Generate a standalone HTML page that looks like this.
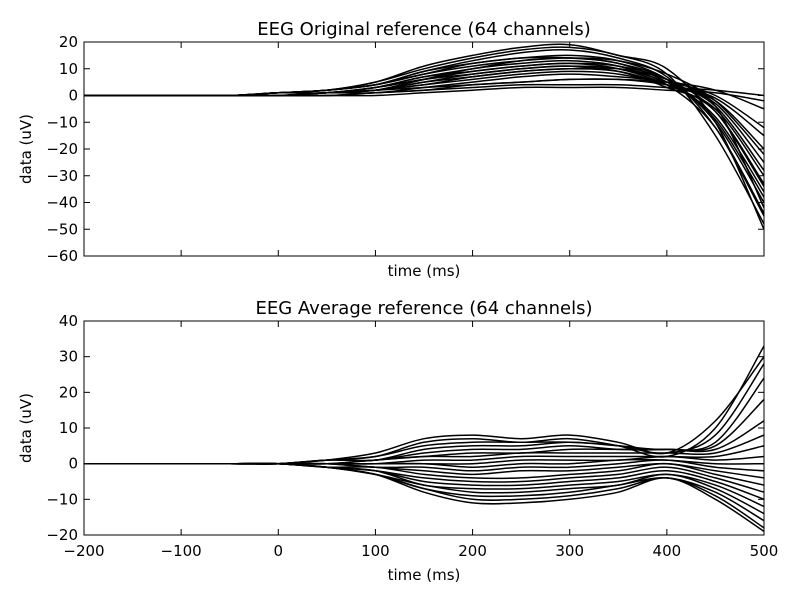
<!DOCTYPE html>
<html><head><meta charset="utf-8"><style>
html,body{margin:0;padding:0;background:#fff;}
svg{display:block;font-family:"DejaVu Sans","Liberation Sans",sans-serif;}
</style></head><body>
<svg id="chart" width="800" height="600" viewBox="0 0 800 600" xmlns="http://www.w3.org/2000/svg"></svg>
<script>
const times = [-200,-150,-100,-50,0,50,100,150,200,250,300,350,400,450,500];
const xTicks = [-200,-100,0,100,200,300,400,500];
const topYTicks = [20,10,0,-10,-20,-30,-40,-50,-60];
const botYTicks = [40,30,20,10,0,-10,-20];
const topSeries = [
[0,0,0,0,1,2,5,10,14,17,18,15,8,-15,-48],
[0,0,0,0,1,2,4,9,13,16,17,14,7,-12,-45],
[0,0,0,0,1,2,4,8,12,14,15,13,6,-10,-40],
[0,0,0,0,1,1,3,7,10,13,14,12,5,-8,-36],
[0,0,0,0,0,1,3,6,9,11,12,10,4,-6,-33],
[0,0,0,0,0,1,2,5,8,10,11,9,3,-5,-30],
[0,0,0,0,0,1,2,5,7,9,10,9,4,-3,-25],
[0,0,0,0,0,1,2,4,6,8,9,8,4,-2,-20],
[0,0,0,0,0,1,1,3,5,7,8,7,5,0,-12],
[0,0,0,0,0,0,1,2,4,5,6,6,5,2,-5],
[0,0,0,0,0,0,1,2,3,4,4,4,3,2,0],
[0,0,0,0,0,0,0,1,2,3,3,3,2,1,-2],
[0,0,0,0,0,1,2,4,7,9,10,10,6,-4,-42],
[0,0,0,0,1,2,5,11,15,18,19,15,10,-10,-50],
[0,0,0,0,1,2,4,9,12,14,14,12,6,-9,-38],
[0,0,0,0,0,1,3,6,8,10,11,10,5,-4,-28],
[0,0,0,0,1,2,4,8,11,13,14,13,8,-2,-22],
[0,0,0,0,0,1,2,3,4,5,6,6,4,-1,-15],
[0,0,0,0,0,1,2,6,10,12,13,11,4,-12,-44],
[0,0,0,0,1,1,3,7,9,11,12,11,6,-6,-34]
];
const botSeries = [
[0,0,0,0,0,1,2,6,7,6,7,5,2,10,33],
[0,0,0,0,0,1,2,5,6,6,6,5,3,8,28],
[0,0,0,0,0,1,1,4,5,5,6,5,4,6,24],
[0,0,0,0,0,1,1,3,4,4,5,4,4,5,18],
[0,0,0,0,0,0,1,2,3,3,4,4,4,4,12],
[0,0,0,0,0,0,1,2,2,3,3,3,3,3,8],
[0,0,0,0,0,0,0,1,1,2,2,2,2,2,5],
[0,0,0,0,0,0,0,0,0,1,1,1,2,1,2],
[0,0,0,0,0,0,0,0,-1,0,0,1,1,0,0],
[0,0,0,0,0,0,-1,-1,-2,-1,-1,0,1,-1,-2],
[0,0,0,0,0,0,-1,-2,-3,-2,-2,-1,0,-2,-4],
[0,0,0,0,0,-1,-1,-3,-4,-4,-3,-2,0,-3,-6],
[0,0,0,0,0,-1,-2,-4,-5,-5,-4,-3,-1,-4,-8],
[0,0,0,0,0,-1,-2,-5,-6,-6,-5,-4,-2,-5,-10],
[0,0,0,0,0,-1,-2,-6,-7,-7,-6,-5,-3,-6,-12],
[0,0,0,0,0,-1,-3,-6,-8,-8,-7,-6,-3,-7,-14],
[0,0,0,0,0,-1,-3,-7,-9,-9,-8,-6,-4,-8,-16],
[0,0,0,0,0,-1,-3,-7,-10,-10,-9,-7,-4,-9,-18],
[0,0,0,0,0,-1,-3,-8,-11,-11,-10,-8,-4,-10,-19],
[0,0,0,0,0,1,3,7,8,7,8,6,3,12,30]
];

const NS = "http://www.w3.org/2000/svg";
const svg = document.getElementById('chart');
function mk(tag, attrs, parent){
  const e = document.createElementNS(NS, tag);
  for (const k in attrs) e.setAttribute(k, attrs[k]);
  (parent||svg).appendChild(e);
  return e;
}
const X0 = 84, X1 = 764;
function xScale(t){ return X0 + (t + 200) / 700 * (X1 - X0); }
function smoothPath(pts){
  let d = 'M' + pts[0][0].toFixed(1) + ' ' + pts[0][1].toFixed(1);
  for (let i = 0; i < pts.length - 1; i++) {
    const p0 = pts[i-1] || pts[i], p1 = pts[i], p2 = pts[i+1], p3 = pts[i+2] || p2;
    const c1x = p1[0] + (p2[0]-p0[0])/6, c1y = p1[1] + (p2[1]-p0[1])/6;
    const c2x = p2[0] - (p3[0]-p1[0])/6, c2y = p2[1] - (p3[1]-p1[1])/6;
    d += ' C' + c1x.toFixed(1)+' '+c1y.toFixed(1)+' '+c2x.toFixed(1)+' '+c2y.toFixed(1)+' '+p2[0].toFixed(1)+' '+p2[1].toFixed(1);
  }
  return d;
}

function panel(name, top, bottom, ymax, ymin, yTicks, series, title, showXLabels){
  const yScale = v => top + (ymax - v) / (ymax - ymin) * (bottom - top);
  const g = mk('g', {});
  
  
  const clip = mk('clipPath', {id: name + '-clip'}, g);
  mk('rect', {x: X0, y: top, width: X1 - X0, height: bottom - top}, clip);
  const lines = mk('g', {'clip-path': 'url(#' + name + '-clip)'}, g);
  series.forEach((s, i) => {
    const pts = s.map((v, j) => [xScale(times[j]), yScale(v)]);
    const p = mk('path', {d: smoothPath(pts), fill: 'none', stroke: '#000', 'stroke-width': 1.5}, lines);
    
    
  });
  const frame = mk('rect', {x: X0, y: top, width: X1 - X0, height: bottom - top, fill: 'none', stroke: '#000', 'stroke-width': 1}, g);
  
  
  xTicks.forEach(t => {
    const x = xScale(t);
    mk('line', {x1: x, x2: x, y1: bottom, y2: bottom - 6, stroke: '#000'}, g);
    mk('line', {x1: x, x2: x, y1: top, y2: top + 6, stroke: '#000'}, g);
    if (showXLabels) {
      const tx = mk('text', {x: x, y: bottom + 21, 'text-anchor': 'middle', 'font-size': 15}, g);
      tx.textContent = String(t).replace('-', '\u2212');
      
      
    }
  });
  yTicks.forEach(v => {
    const y = yScale(v);
    mk('line', {x1: X0, x2: X0 + 6, y1: y, y2: y, stroke: '#000'}, g);
    mk('line', {x1: X1, x2: X1 - 6, y1: y, y2: y, stroke: '#000'}, g);
    const tx = mk('text', {x: X0 - 6, y: y + 5, 'text-anchor': 'end', 'font-size': 15}, g);
    tx.textContent = String(v).replace('-', '\u2212');
    
    
  });
  const tt = mk('text', {x: (X0 + X1) / 2, y: top - 7, 'text-anchor': 'middle', 'font-size': 18}, g);
  tt.textContent = title;
  
  
  const xl = mk('text', {x: (X0 + X1) / 2, y: bottom + (showXLabels ? 45 : 20), 'text-anchor': 'middle', 'font-size': 15}, g);
  xl.textContent = 'time (ms)';
  
  
  const cy = (top + bottom) / 2;
  const yl = mk('text', {x: 31, y: cy, 'text-anchor': 'middle', 'font-size': 15, transform: 'rotate(-90 31 ' + cy + ')'}, g);
  yl.textContent = 'data (uV)';
  
  
}
panel('original-reference-panel', 42, 256, 20, -60, topYTicks, topSeries, 'EEG Original reference (64 channels)', false);
panel('average-reference-panel', 321, 535, 40, -20, botYTicks, botSeries, 'EEG Average reference (64 channels)', true);
</script>
</body></html>
